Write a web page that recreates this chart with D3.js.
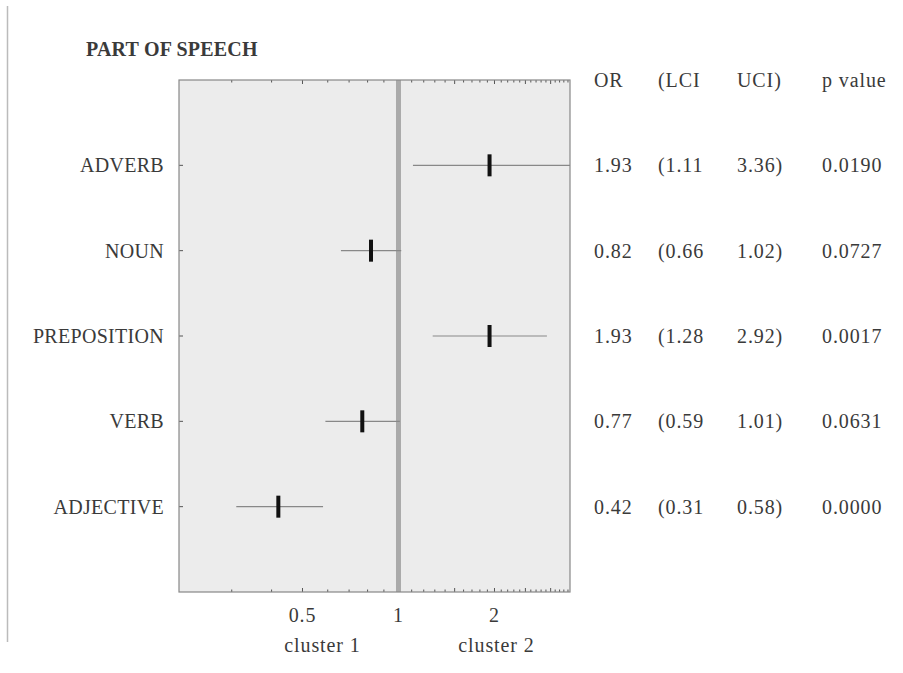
<!DOCTYPE html>
<html>
<head>
<meta charset="utf-8">
<script src="https://cdn.jsdelivr.net/npm/d3@7"></script>
<style>
	body { margin: 0; background: #fff; }
	text { font-family: "Liberation Serif", "Times New Roman", serif; fill: #3a3a3a; letter-spacing: 0.3px; }
	text.num { letter-spacing: 0.9px; }
</style>
</head>
<body>
<script>
// data
const categories = ['ADVERB', 'NOUN', 'PREPOSITION', 'VERB', 'ADJECTIVE'];
const orValues = [1.93, 0.82, 1.93, 0.77, 0.42];
const lciValues = [1.11, 0.66, 1.28, 0.59, 0.31];
const uciValues = [3.36, 1.02, 2.92, 1.01, 0.58];
const pValues = ['0.0190', '0.0727', '0.0017', '0.0631', '0.0000'];
const headers = ['OR', '(LCI', 'UCI)', 'p value'];
const tickLabels = [0.5, 1, 2];
const minorTicks = [0.3, 0.4, 0.5, 0.6, 0.7, 0.8, 0.9, 1, 1.1, 1.2, 1.3, 1.4, 1.5, 1.6, 1.7, 1.8, 1.9, 2,
	2.1, 2.2, 2.3, 2.4, 2.5, 2.6, 2.7, 2.8, 2.9, 3, 3.1, 3.2, 3.3, 3.4];
const majorTicks = [0.5, 1, 1.5, 2, 2.5, 3];

const width = 903, height = 673;
const plot = { left: 179, right: 570, top: 80, bottom: 592 };

const svg = d3.select('body').append('svg')
	.attr('width', width)
	.attr('height', height);

const x = d3.scaleLog().domain([0.205, 3.45]).range([plot.left, plot.right]);
const y = d3.scalePoint().domain(categories).range([plot.top, plot.bottom]).padding(1);

// page rule on the left
svg.append('line')
	.attr('x1', 7.5).attr('x2', 7.5)
	.attr('y1', 6).attr('y2', 642)
	.style('stroke', '#bbb')
	.style('stroke-width', 1.5);

svg.append('text')
	.attr('x', 86).attr('y', 56)
	.style('font-size', '20px')
	.style('font-weight', 'bold')
	.style('letter-spacing', '0.2px')
	.text('PART OF SPEECH');

svg.append('clipPath').attr('id', 'plot-clip')
	.append('rect')
	.attr('x', plot.left).attr('y', plot.top)
	.attr('width', plot.right - plot.left).attr('height', plot.bottom - plot.top);

svg.append('rect')
	.attr('x', plot.left).attr('y', plot.top)
	.attr('width', plot.right - plot.left).attr('height', plot.bottom - plot.top)
	.style('fill', '#ececec');

// ticks top & bottom, pointing inward
const ticks = svg.append('g').attr('class', 'ticks');
[plot.top, plot.bottom].forEach((edge, k) => {
	const dir = k === 0 ? 1 : -1;
	ticks.selectAll(null).data(minorTicks).join('line')
		.attr('x1', d => x(d)).attr('x2', d => x(d))
		.attr('y1', edge).attr('y2', d => edge + dir * (majorTicks.includes(d) ? 4 : 2.5))
		.style('stroke', '#555').style('stroke-width', 1);
});
ticks.selectAll(null).data(categories).join('line')
	.attr('x1', plot.left).attr('x2', plot.left + 4)
	.attr('y1', d => y(d)).attr('y2', d => y(d))
	.style('stroke', '#555');

// reference line at OR = 1
svg.append('line')
	.attr('x1', x(1)).attr('x2', x(1))
	.attr('y1', plot.top).attr('y2', plot.bottom)
	.style('stroke', '#aaa')
	.style('stroke-width', 5);

const rows = svg.append('g').attr('clip-path', 'url(#plot-clip)')
	.selectAll('g').data(categories).join('g')
	.attr('transform', d => `translate(0,${y(d)})`);
rows.append('line')
	.attr('x1', (d, i) => x(lciValues[i]))
	.attr('x2', (d, i) => i === 0 ? plot.right : x(uciValues[i]))
	.style('stroke', '#888')
	.style('stroke-width', 1.2);
rows.append('rect')
	.attr('x', (d, i) => x(orValues[i]) - 2)
	.attr('y', -11)
	.attr('width', 4).attr('height', 22)
	.style('fill', '#111');

// frame
svg.append('rect')
	.attr('x', plot.left).attr('y', plot.top)
	.attr('width', plot.right - plot.left).attr('height', plot.bottom - plot.top)
	.style('fill', 'none')
	.style('stroke', '#888')
	.style('stroke-width', 1.2);

// category labels
svg.selectAll('.cat').data(categories).join('text')
	.attr('class', 'cat')
	.attr('x', 164)
	.attr('y', d => y(d) + 7)
	.attr('text-anchor', 'end')
	.style('font-size', '20px')
	.text(d => d);

// x tick labels
svg.selectAll('.xl').data(tickLabels).join('text')
	.attr('class', 'xl num')
	.attr('x', d => x(d))
	.attr('y', 622)
	.attr('text-anchor', 'middle')
	.style('font-size', '20px')
	.text(d => d);

svg.append('text').attr('x', x(1) - 76).attr('y', 652).attr('class', 'num')
	.attr('text-anchor', 'middle').style('font-size', '20px').text('cluster 1');
svg.append('text').attr('x', x(2) + 2).attr('y', 652).attr('class', 'num')
	.attr('text-anchor', 'middle').style('font-size', '20px').text('cluster 2');

// table on the right
const colX = [594, 658, 737, 822];
svg.selectAll('.hdr').data(headers).join('text')
	.attr('class', 'hdr num')
	.attr('x', (d, i) => colX[i])
	.attr('y', 87)
	.style('font-size', '20px')
	.text(d => d);

const columns = [
	orValues.map(v => v.toFixed(2)),
	lciValues.map(v => '(' + v.toFixed(2)),
	uciValues.map(v => v.toFixed(2) + ')'),
	pValues
];
columns.forEach((col, j) => {
	svg.selectAll(null).data(col).join('text')
		.attr('class', 'num')
		.attr('x', colX[j])
		.attr('y', (d, i) => y(categories[i]) + 7)
		.style('font-size', '20px')
		.text(d => d);
});
</script>
</body>
</html>
